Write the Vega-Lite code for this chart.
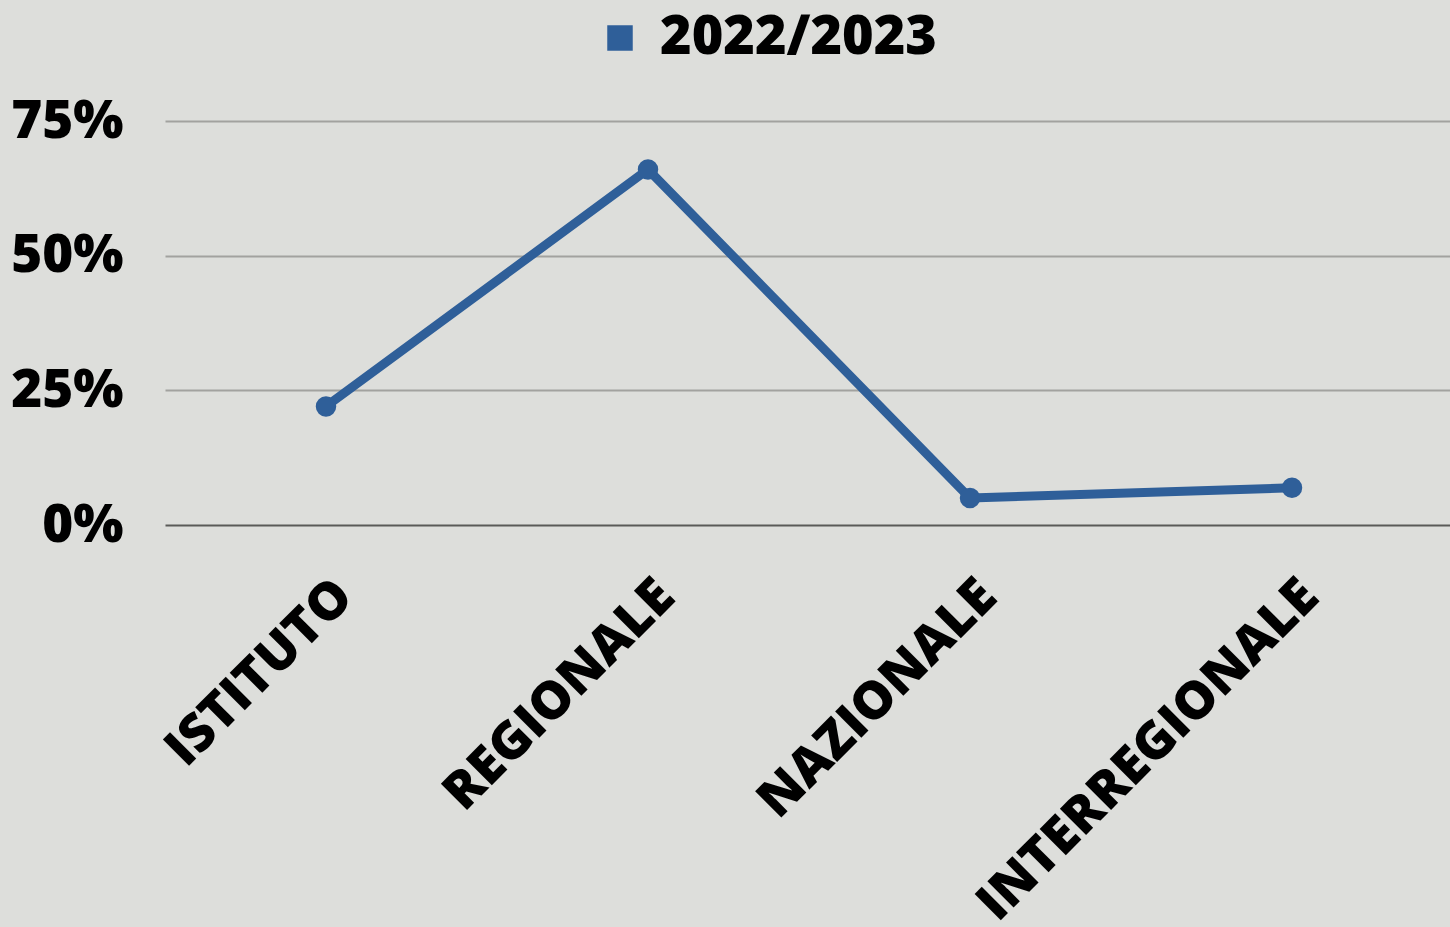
{
  "$schema": "https://vega.github.io/schema/vega-lite/v6.json",
  "autosize": {"type": "none"},
  "padding": {"left": 165, "top": 121, "right": 0, "bottom": 402},
  "width": 1288,
  "height": 404,
  "background": "#dddedb",
  "config": {
    "view": {"stroke": null},
    "font": "Open Sans"
  },
  "data": {
    "values": [
      {"categoria": "ISTITUTO", "valore": 0.22, "serie": "2022/2023"},
      {"categoria": "REGIONALE", "valore": 0.66, "serie": "2022/2023"},
      {"categoria": "NAZIONALE", "valore": 0.05, "serie": "2022/2023"},
      {"categoria": "INTERREGIONALE", "valore": 0.069, "serie": "2022/2023"}
    ]
  },
  "encoding": {
    "x": {
      "field": "categoria",
      "type": "nominal",
      "sort": null,
      "scale": {"type": "point", "padding": 0.5},
      "axis": {
        "title": null,
        "labelAngle": -45,
        "labelFontSize": 52,
        "labelFontWeight": 800,
        "labelColor": "#000000",
        "labelFont": "Open Sans",
        "labelPadding": 45,
        "labelLimit": 0,
        "labelOverlap": false,
        "ticks": false,
        "domain": false,
        "grid": false
      }
    },
    "y": {
      "field": "valore",
      "type": "quantitative",
      "scale": {"domain": [0, 0.75], "nice": false},
      "axis": {
        "title": null,
        "values": [0, 0.25, 0.5, 0.75],
        "format": ".0%",
        "labelFontSize": 53,
        "labelFontWeight": 800,
        "labelColor": "#000000",
        "labelFont": "Open Sans",
        "labelPadding": 42,
        "labelLimit": 0,
        "ticks": false,
        "domain": false,
        "grid": true,
        "gridWidth": 2,
        "gridColor": {"condition": {"test": "datum.value === 0", "value": "#5a5a58"}, "value": "#a2a29f"}
      }
    }
  },
  "layer": [
    {
      "mark": {"type": "line", "color": "#2f5f99", "strokeWidth": 9, "strokeCap": "round", "strokeJoin": "round"}
    },
    {
      "mark": {"type": "point", "filled": true, "size": 420, "opacity": 1},
      "encoding": {
        "color": {
          "field": "serie",
          "type": "nominal",
          "scale": {"range": ["#2f5f99"]},
          "legend": {
            "title": null,
            "orient": "none",
            "legendX": 428,
            "legendY": -110,
            "symbolType": "square",
            "symbolSize": 650,
            "symbolOpacity": 1,
            "labelFontSize": 54,
            "labelFontWeight": 800,
            "labelLimit": 0,
            "labelColor": "#000000",
            "labelFont": "Open Sans",
            "labelOffset": 13
          }
        }
      }
    }
  ]
}
